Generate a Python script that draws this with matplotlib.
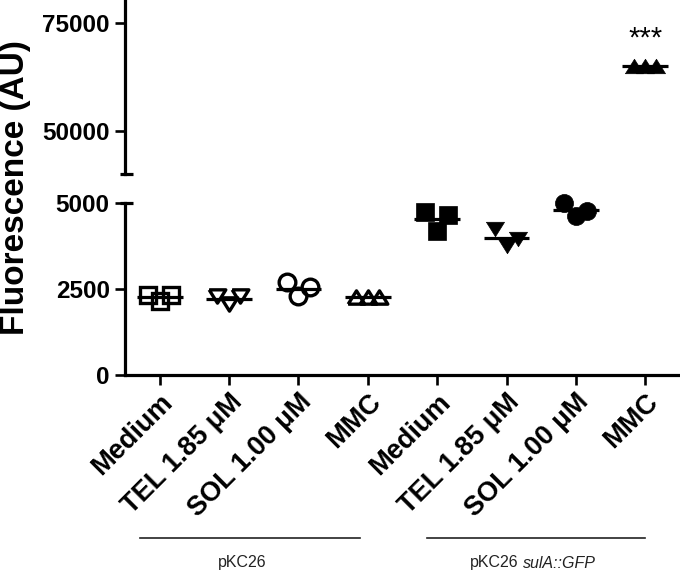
import matplotlib
matplotlib.use("Agg")
import matplotlib.pyplot as plt
import matplotlib.transforms as mtransforms
import numpy as np

plt.rcParams['font.family'] = ['Liberation Sans', 'DejaVu Sans']

# ---- data ----
categories = ["Medium", "TEL 1.85 \u03bcM", "SOL 1.00 \u03bcM", "MMC",
              "Medium", "TEL 1.85 \u03bcM", "SOL 1.00 \u03bcM", "MMC"]
pkc26_medium = [2310, 2150, 2310]
pkc26_tel = [2290, 2050, 2290]
pkc26_sol = [2710, 2280, 2540]
pkc26_mmc = [2270, 2270, 2270]
gfp_medium = [4720, 4190, 4630]
gfp_tel = [4250, 3740, 3960]
gfp_sol = [4990, 4600, 4770]
gfp_mmc = [65000, 65000, 65000]
groups = ["pKC26", "pKC26 sulA::GFP"]
lower_ticks = [0, 2500, 5000]
upper_ticks = [50000, 75000]

series = [pkc26_medium, pkc26_tel, pkc26_sol, pkc26_mmc,
          gfp_medium, gfp_tel, gfp_sol, gfp_mmc]

tri_up = [(-1, -0.8), (1, -0.8), (0, 0.8), (-1, -0.8)]
tri_dn = [(-1, 0.8), (1, 0.8), (0, -0.8), (-1, 0.8)]
markers = ['s', tri_dn, 'o', tri_up] * 2
filled = [False] * 4 + [True] * 4
offsets = [-0.17, 0.0, 0.16]

fig = plt.figure(figsize=(6.8, 5.73), dpi=100)
W, H = 680, 573
left = 125 / W
ax_lo = fig.add_axes([left, 1 - 375 / H, 1 - left, (375 - 202.7) / H])
ax_hi = fig.add_axes([left, 1 - 174 / H, 1 - left, (174 - 1) / H])

lw_sp = 2.3
for ax in (ax_lo, ax_hi):
    ax.set_xlim(-0.5, 7.5)
    for s in ['top', 'right']:
        ax.spines[s].set_visible(False)
    ax.spines['left'].set_linewidth(lw_sp)
    ax.spines['bottom'].set_linewidth(lw_sp)
    ax.tick_params(axis='y', length=7, width=1.9, labelsize=17.5, pad=4)
    ax.tick_params(axis='x', length=7, width=1.9, pad=3)

ax_lo.set_ylim(0, 5000)
ax_hi.set_ylim(40000, 80000)
ax_lo.set_yticks(lower_ticks)
ax_hi.set_yticks(upper_ticks)
ax_lo.set_yticklabels([str(t) for t in lower_ticks], fontweight='bold', fontsize=17.5)
ax_hi.set_yticklabels([str(t) for t in upper_ticks], fontweight='bold', fontsize=17.5)
ax_hi.spines['bottom'].set_visible(False)
ax_hi.set_xticks([])

ax_lo.set_xticks(range(len(categories)))
ax_lo.set_xticklabels(categories, rotation=45, ha='right', va='top',
                      rotation_mode='anchor', fontweight='bold', fontsize=19.5)

# break caps
for ax, yv in ((ax_hi, 40000), (ax_lo, 5000)):
    tr = mtransforms.blended_transform_factory(ax.transAxes, ax.transData)
    ax.plot([-0.009, 0.014], [yv, yv], color='black', lw=lw_sp,
            transform=tr, clip_on=False, solid_capstyle='butt')

for i, vals in enumerate(series):
    ax = ax_hi if np.mean(vals) > 5000 else ax_lo
    xs = [i + o for o in offsets]
    if filled[i]:
        ax.plot(xs, vals, linestyle='none', marker=markers[i], ms=13,
                mfc='black', mec='black', mew=0.5, clip_on=False, zorder=3)
    else:
        ax.plot(xs, vals, linestyle='none', marker=markers[i], ms=12,
                mfc='none', mec='black', mew=2.4, clip_on=False, zorder=3)
    m = np.mean(vals)
    ax.plot([i - 0.33, i + 0.33], [m, m], color='black', lw=2.3,
            solid_capstyle='butt', zorder=4, clip_on=False)

ax_hi.text(7, 71200, "***", ha='center', va='center', fontsize=21)

fig.text(16 / W, 1 - 188 / H, "Fluorescence (AU)", rotation=90,
         ha='center', va='center', fontsize=24, fontweight='bold')

# group lines and labels
trg = mtransforms.blended_transform_factory(ax_lo.transData, fig.transFigure)
yl = 1 - 538 / H
ax_lo.plot([-0.29, 2.89], [yl, yl], color='#222222', lw=1.2, transform=trg, clip_on=False)
ax_lo.plot([3.85, 7.0], [yl, yl], color='#222222', lw=1.2, transform=trg, clip_on=False)
yt = 1 - 563 / H
fig.text(1.19, yt, groups[0], transform=trg, ha='center', va='center', fontsize=11.5, color='#222222')
fig.text(5.17, yt, "pKC26", transform=trg, ha='right', va='center', fontsize=11.5, color='#222222')
fig.text(5.24, yt, "sulA::GFP", transform=trg, ha='left', va='center', fontsize=11.5,
         style='italic', color='#222222')

fig.savefig("out.png", dpi=100)
